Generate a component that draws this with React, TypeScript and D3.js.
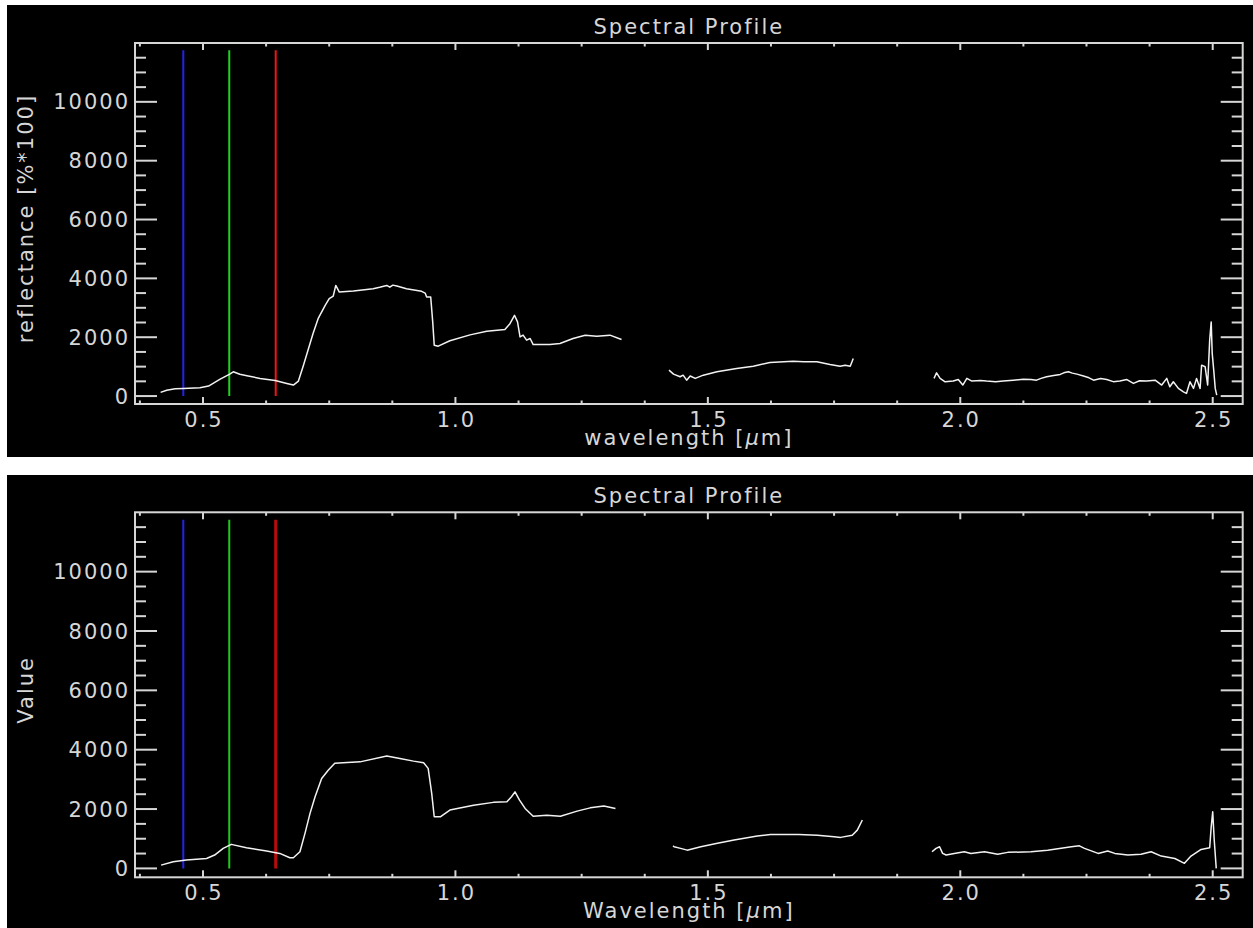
import React from "react";
import * as d3 from "d3";

// ---------- data ----------
const xMajorTicks = [0.5, 1.0, 1.5, 2.0, 2.5];
const xTickLabels = ["0.5", "1.0", "1.5", "2.0", "2.5"];
const yMajorTicks = [0, 2000, 4000, 6000, 8000, 10000];
const yTickLabels = ["0", "2000", "4000", "6000", "8000", "10000"];
const bandWavelengths = [0.461, 0.552, 0.644];
const bandTopValue = 11750;

// top panel: reflectance [%*100]
const reflSeg1: [number, number][] = [
  [0.416, 125], [0.428, 200], [0.445, 245], [0.461, 260], [0.494, 280], [0.511, 340],
  [0.534, 575], [0.553, 745], [0.56, 825], [0.573, 740], [0.587, 690], [0.613, 600],
  [0.643, 530], [0.666, 430], [0.679, 373], [0.689, 510], [0.699, 1050], [0.709, 1615],
  [0.718, 2125], [0.728, 2630], [0.742, 3085], [0.75, 3310], [0.758, 3400], [0.763, 3760],
  [0.77, 3535], [0.798, 3570], [0.837, 3650], [0.85, 3700], [0.864, 3760], [0.87, 3700],
  [0.876, 3770], [0.884, 3740], [0.903, 3650], [0.933, 3560], [0.94, 3500], [0.943, 3370],
  [0.951, 3370], [0.955, 2520], [0.958, 1730], [0.966, 1695], [0.989, 1880], [1.029, 2080],
  [1.062, 2200], [1.098, 2260], [1.108, 2460], [1.117, 2745], [1.123, 2520], [1.128, 2010],
  [1.134, 2070], [1.141, 1900], [1.148, 1955], [1.154, 1750], [1.187, 1750], [1.207, 1785],
  [1.233, 1955], [1.257, 2070], [1.28, 2035], [1.306, 2070], [1.329, 1920],
];
const reflSeg2: [number, number][] = [
  [1.423, 880], [1.432, 745], [1.445, 655], [1.451, 710], [1.458, 540], [1.465, 680],
  [1.475, 600], [1.491, 710], [1.518, 825], [1.557, 940], [1.59, 1015], [1.623, 1140],
  [1.669, 1185], [1.69, 1170], [1.716, 1165], [1.742, 1075], [1.762, 1015], [1.772, 1050],
  [1.782, 1015], [1.788, 1280],
];
const reflSeg3: [number, number][] = [
  [1.948, 600], [1.953, 790], [1.96, 600], [1.97, 485], [1.986, 510], [1.996, 565],
  [2.005, 375], [2.013, 600], [2.023, 510], [2.04, 530], [2.052, 510], [2.07, 490],
  [2.085, 510], [2.105, 540], [2.125, 575], [2.14, 560], [2.151, 540], [2.16, 600],
  [2.171, 655], [2.185, 700], [2.198, 735], [2.205, 790], [2.214, 825], [2.222, 780],
  [2.231, 745], [2.244, 680], [2.255, 620], [2.264, 540], [2.278, 600], [2.29, 565],
  [2.303, 490], [2.316, 510], [2.33, 560], [2.343, 430], [2.355, 520], [2.369, 510],
  [2.386, 540], [2.399, 375], [2.409, 600], [2.415, 315], [2.422, 485], [2.432, 260],
  [2.442, 145], [2.448, 90], [2.455, 485], [2.462, 260], [2.468, 600], [2.475, 260],
  [2.478, 1050], [2.485, 995], [2.49, 375], [2.494, 1900], [2.497, 2520], [2.499, 1450],
  [2.502, 880], [2.505, 260], [2.508, 30],
];

// bottom panel: value
const valueSeg1: [number, number][] = [
  [0.417, 110], [0.441, 225], [0.467, 280], [0.507, 335], [0.523, 450], [0.54, 675],
  [0.556, 810], [0.586, 695], [0.626, 585], [0.652, 505], [0.672, 360], [0.679, 360],
  [0.692, 560], [0.702, 1180], [0.712, 1855], [0.722, 2415], [0.735, 3030], [0.748, 3310],
  [0.761, 3540], [0.811, 3590], [0.864, 3785], [0.89, 3705], [0.917, 3615], [0.937, 3560],
  [0.946, 3370], [0.953, 2530], [0.958, 1740], [0.97, 1740], [0.989, 1965], [1.036, 2130],
  [1.075, 2225], [1.102, 2245], [1.111, 2415], [1.118, 2580], [1.127, 2300], [1.138, 2020],
  [1.154, 1760], [1.181, 1795], [1.208, 1760], [1.241, 1930], [1.267, 2040], [1.294, 2100],
  [1.317, 2020],
];
const valueSeg2: [number, number][] = [
  [1.431, 760], [1.433, 730], [1.446, 675], [1.459, 615], [1.486, 730], [1.519, 845],
  [1.552, 955], [1.598, 1090], [1.624, 1145], [1.68, 1140], [1.717, 1120], [1.75, 1065],
  [1.763, 1045], [1.786, 1120], [1.796, 1290], [1.806, 1630],
];
const valueSeg3: [number, number][] = [
  [1.944, 560], [1.952, 675], [1.959, 730], [1.965, 505], [1.972, 450], [1.988, 505],
  [2.008, 560], [2.021, 505], [2.048, 560], [2.074, 480], [2.094, 540], [2.14, 560],
  [2.173, 615], [2.22, 730], [2.236, 760], [2.246, 675], [2.273, 505], [2.292, 585],
  [2.306, 505], [2.332, 450], [2.358, 480], [2.378, 560], [2.398, 415], [2.425, 335],
  [2.444, 170], [2.457, 415], [2.477, 640], [2.494, 695], [2.497, 1400], [2.5, 1910],
  [2.503, 955], [2.507, 0],
];

// ---------- drawing ----------
const FG = "#d6d6d6";
const FONT = "'DejaVu Sans', Verdana, sans-serif";

type PanelProps = {
  bgTop: number;
  bgBottom: number;
  plotTop: number;
  plotBottom: number;
  yDomain: [number, number];
  title: string;
  xLabel: string;
  yLabel: string;
  segments: [number, number][][];
  bandColors: string[];
  bandWidths: number[];
};

function Panel(p: PanelProps) {
  const plotLeft = 135;
  const plotRight = 1242.7;
  const x = d3.scaleLinear().domain([0.3653, 2.5594]).range([plotLeft, plotRight]);
  const y = d3.scaleLinear().domain(p.yDomain).range([p.plotBottom, p.plotTop]);
  const line = d3
    .line<[number, number]>()
    .x((d) => x(d[0]))
    .y((d) => y(d[1]));

  const xMinor = d3.range(0.375, 2.56, 0.125).filter(
    (t) => !xMajorTicks.some((m) => Math.abs(m - t) < 1e-6)
  );
  const yMinor = d3.range(500, 12000, 500).filter((t) => t % 2000 !== 0);

  const cx = (plotLeft + plotRight) / 2;
  const cy = (p.plotTop + p.plotBottom) / 2 - 5;
  const majX = 7;
  const minX = 3.5;
  const majY = 22;
  const minY = 11;

  return (
    <g>
      <rect x={7} y={p.bgTop} width={1246} height={p.bgBottom - p.bgTop} fill="#000" />
      {/* band marker lines */}
      {bandWavelengths.map((w, i) => (
        <line
          key={"b" + i}
          x1={x(w)}
          x2={x(w)}
          y1={y(0)}
          y2={y(bandTopValue)}
          stroke={p.bandColors[i]}
          strokeWidth={p.bandWidths[i]}
        />
      ))}
      {/* spectrum */}
      {p.segments.map((s, i) => (
        <path
          key={"s" + i}
          d={line(s) || ""}
          fill="none"
          stroke="#f2f2f2"
          strokeWidth={1.5}
          strokeLinejoin="round"
        />
      ))}
      {/* frame */}
      <rect
        x={plotLeft}
        y={p.plotTop}
        width={plotRight - plotLeft}
        height={p.plotBottom - p.plotTop}
        fill="none"
        stroke={FG}
        strokeWidth={2}
      />
      {/* x ticks */}
      {xMajorTicks.map((t) => (
        <g key={"xm" + t}>
          <line x1={x(t)} x2={x(t)} y1={p.plotBottom} y2={p.plotBottom - majX} stroke={FG} strokeWidth={2} />
          <line x1={x(t)} x2={x(t)} y1={p.plotTop} y2={p.plotTop + majX} stroke={FG} strokeWidth={2} />
        </g>
      ))}
      {xMinor.map((t) => (
        <g key={"xn" + t}>
          <line x1={x(t)} x2={x(t)} y1={p.plotBottom} y2={p.plotBottom - minX} stroke={FG} strokeWidth={2} />
          <line x1={x(t)} x2={x(t)} y1={p.plotTop} y2={p.plotTop + minX} stroke={FG} strokeWidth={2} />
        </g>
      ))}
      {/* y ticks */}
      {yMajorTicks.map((t) => (
        <g key={"ym" + t}>
          <line x1={plotLeft} x2={plotLeft + majY} y1={y(t)} y2={y(t)} stroke={FG} strokeWidth={2} />
          <line x1={plotRight} x2={plotRight - majY} y1={y(t)} y2={y(t)} stroke={FG} strokeWidth={2} />
        </g>
      ))}
      {yMinor.map((t) => (
        <g key={"yn" + t}>
          <line x1={plotLeft} x2={plotLeft + minY} y1={y(t)} y2={y(t)} stroke={FG} strokeWidth={2} />
          <line x1={plotRight} x2={plotRight - minY} y1={y(t)} y2={y(t)} stroke={FG} strokeWidth={2} />
        </g>
      ))}
      {/* labels */}
      <g fill={FG} fontFamily={FONT} fontSize={21} letterSpacing={2}>
        {xMajorTicks.map((t, i) => (
          <text key={"xl" + t} x={x(t) + 1} y={p.plotBottom + 23} textAnchor="middle">
            {xTickLabels[i]}
          </text>
        ))}
        {yMajorTicks.map((t, i) => (
          <text key={"yl" + t} x={plotLeft - 5} y={y(t)} dy="0.36em" textAnchor="end">
            {yTickLabels[i]}
          </text>
        ))}
        <text x={cx} y={p.plotTop - 9} textAnchor="middle">
          {p.title}
        </text>
        <text x={cx} y={p.plotBottom + 41} textAnchor="middle">
          {p.xLabel} [<tspan fontStyle="italic">μ</tspan>m]
        </text>
        <text transform={`translate(33,${cy}) rotate(-90)`} textAnchor="middle">
          {p.yLabel}
        </text>
      </g>
    </g>
  );
}

export default function App() {
  return (
    <svg
      width={1253}
      height={928}
      style={{ position: "absolute", left: 0, top: 0, display: "block", background: "#fff" }}
    >
      <Panel
        bgTop={5}
        bgBottom={457}
        plotTop={43}
        plotBottom={404}
        yDomain={[-270, 12000]}
        title="Spectral Profile"
        xLabel="wavelength"
        yLabel="reflectance [%*100]"
        segments={[reflSeg1, reflSeg2, reflSeg3]}
        bandColors={["#2222ee", "#1ed21e", "#f01414"]}
        bandWidths={[2, 2, 2]}
      />
      <Panel
        bgTop={475}
        bgBottom={928}
        plotTop={512.3}
        plotBottom={877.3}
        yDomain={[-300, 12000]}
        title="Spectral Profile"
        xLabel="Wavelength"
        yLabel="Value"
        segments={[valueSeg1, valueSeg2, valueSeg3]}
        bandColors={["#2222ee", "#1ec81e", "#b80c0c"]}
        bandWidths={[2, 2, 3]}
      />
    </svg>
  );
}
